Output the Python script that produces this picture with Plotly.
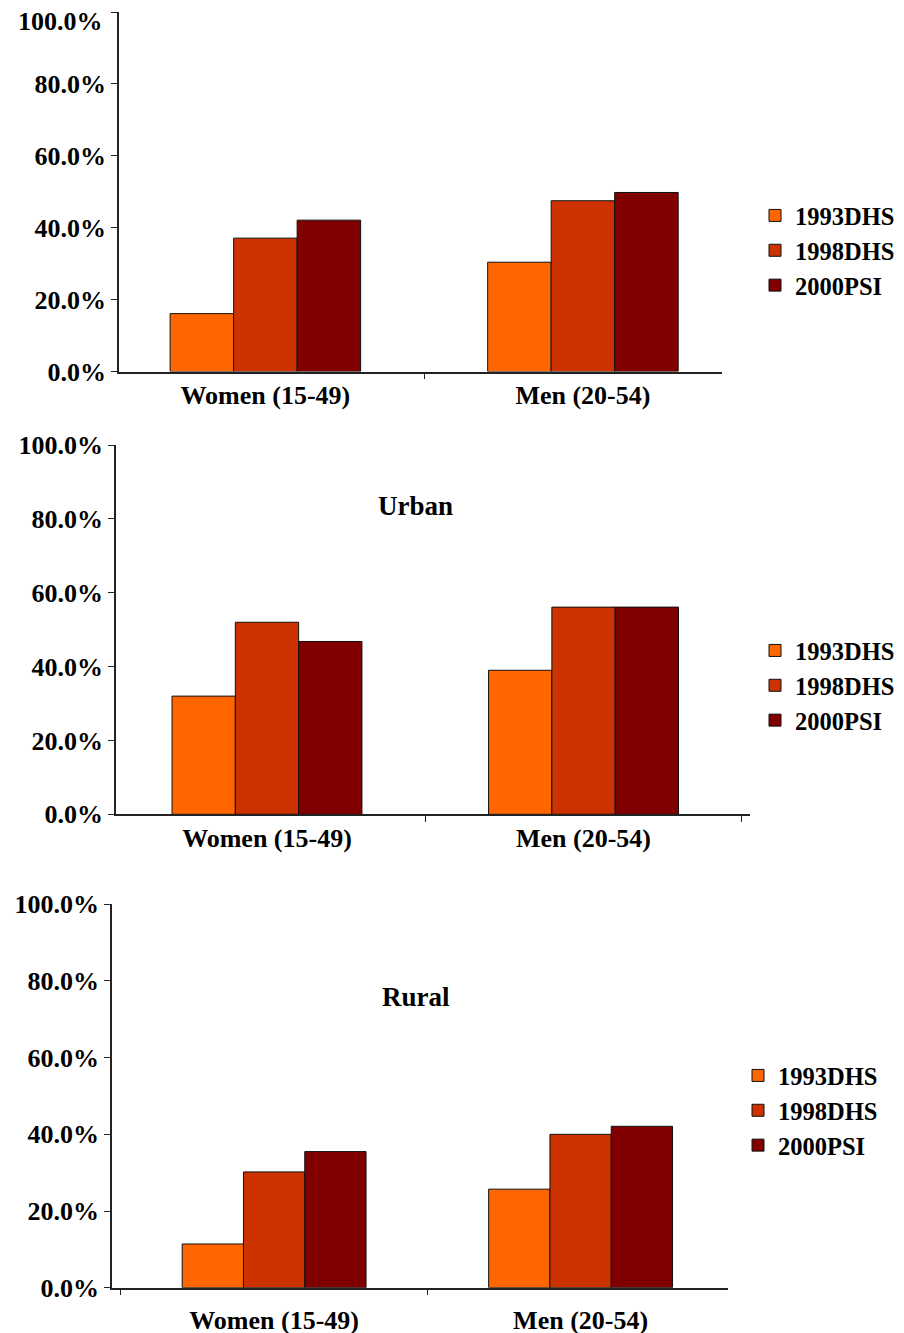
import plotly.graph_objects as go

categories = ["Women (15-49)", "Men (20-54)"]
series_names = ["1993DHS", "1998DHS", "2000PSI"]
colors = ["#FF6600", "#CC3300", "#800000"]

total_vals = {"1993DHS": [16.1, 30.4], "1998DHS": [37.1, 47.5], "2000PSI": [42.1, 49.8]}
urban_vals = {"1993DHS": [32.0, 39.0], "1998DHS": [52.0, 56.1], "2000PSI": [46.8, 56.1]}
rural_vals = {"1993DHS": [11.4, 25.7], "1998DHS": [30.2, 40.0], "2000PSI": [35.5, 42.1]}

panel_titles = [None, "Urban", "Rural"]
y_ticks = [0, 20, 40, 60, 80, 100]
y_ticktext = ["0.0%", "20.0%", "40.0%", "60.0%", "80.0%", "100.0%"]

W, H = 904, 1333
OFF = 8  # page body margin offset
FONT = "Liberation Serif, Times New Roman, serif"


def fx(px):
    return (px - OFF) / W


def fy(py):
    return 1 - (py - OFF) / H


# screen-pixel layout of each panel:
# (x0, x1, ytop, ybottom, xrange, label standoff, legend pos, title pos)
panels = [
    (119, 722, 12, 371.5, [-0.461, 1.438], 0, (755, 193), None),
    (116, 750, 445, 814.3, [-0.477, 1.526], 0, (755, 628), (415, 506)),
    (112, 728, 904.3, 1287.7, [-0.529, 1.481], 8, (738, 1053), (416, 997)),
]
datasets = [total_vals, urban_vals, rural_vals]

fig = go.Figure()
layout = {}
for i, (x0, x1, yt, yb, xr, standoff, legpos, tpos) in enumerate(panels):
    n = "" if i == 0 else str(i + 1)
    leg = "legend" if i == 0 else f"legend{i + 1}"
    for name, col in zip(series_names, colors):
        fig.add_trace(go.Bar(
            x=categories, y=datasets[i][name], name=name,
            marker=dict(color=col, line=dict(color="#111111", width=1)),
            xaxis="x" + n, yaxis="y" + n, legend=leg,
        ))
    layout["xaxis" + n] = dict(
        domain=[fx(x0), fx(x1)], anchor="y" + n, range=xr, type="category",
        showline=True, linecolor="#222222", linewidth=1.5,
        ticks="outside", tickson="boundaries", ticklen=6, tickcolor="#222222",
        showgrid=False, zeroline=False, ticklabelstandoff=standoff,
        automargin=False, ticklabeloverflow="allow",
        tickfont=dict(family=FONT, size=26, color="black", weight="bold"),
    )
    # the top label of the first panel sits at the page edge: it is drawn
    # slightly lower (as in the reference) as an annotation
    ttext = list(y_ticktext)
    if i == 0:
        ttext[-1] = ""
    layout["yaxis" + n] = dict(
        domain=[fy(yb), fy(yt)], anchor="x" + n, range=[0, 100],
        tickmode="array", tickvals=y_ticks, ticktext=ttext,
        showline=True, linecolor="#222222", linewidth=1.5,
        ticks="outside", ticklen=6, tickcolor="#222222",
        showgrid=False, zeroline=False, automargin=False,
        ticklabeloverflow="allow",
        tickfont=dict(family=FONT, size=26, color="black", weight="bold"),
    )
    layout[leg] = dict(
        x=fx(legpos[0]), y=fy(legpos[1]), xanchor="left", yanchor="top",
        font=dict(family=FONT, size=24.5, color="black", weight="bold"),
        bgcolor="rgba(0,0,0,0)", tracegroupgap=0, itemclick=False,
    )
    if panel_titles[i]:
        fig.add_annotation(
            text=panel_titles[i], xref="paper", yref="paper",
            x=fx(tpos[0]), y=fy(tpos[1]), showarrow=False,
            xanchor="center", yanchor="middle",
            font=dict(family=FONT, size=27, color="black", weight="bold"),
        )

fig.add_annotation(
    text=y_ticktext[-1], xref="paper", yref="paper",
    x=fx(105), y=fy(21), showarrow=False, xanchor="right", yanchor="middle",
    font=dict(family=FONT, size=26, color="black", weight="bold"),
)

fig.update_layout(
    width=W, height=H, margin=dict(l=0, r=0, t=0, b=0, autoexpand=False),
    autosize=False,
    paper_bgcolor="white", plot_bgcolor="white",
    barmode="group", bargap=0.4, bargroupgap=0, showlegend=True,
    **layout,
)
fig.write_html("out.html")
